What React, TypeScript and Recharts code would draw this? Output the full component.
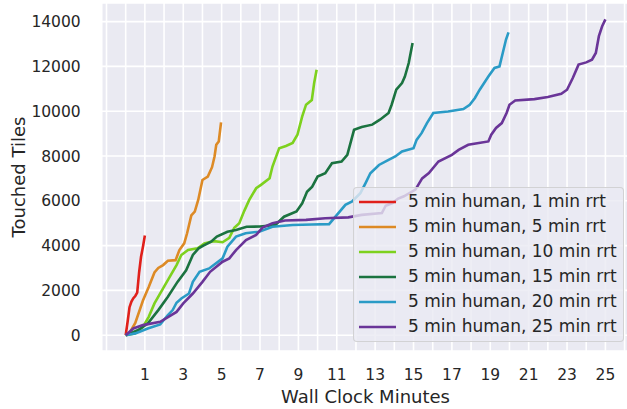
import React from 'react';
import { CartesianGrid, Legend, Line, LineChart, XAxis, YAxis } from 'recharts';

// [minute, touched tiles]
const rrt1 = [
  [0, 0], [0.1, 600], [0.2, 1250], [0.3, 1500], [0.4, 1650], [0.5, 1750], [0.6, 1900],
  [0.7, 2800], [0.8, 3500], [0.9, 3950], [1.0, 4450],
];
const rrt5 = [
  [0, 0], [0.2, 100], [0.5, 550], [0.9, 1550], [1.2, 2150], [1.5, 2800], [1.7, 3000],
  [1.95, 3130], [2.2, 3320], [2.6, 3350], [2.8, 3800], [3.05, 4100], [3.2, 4550],
  [3.42, 5350], [3.6, 5520], [3.78, 6040], [4.0, 6930], [4.28, 7080], [4.5, 7500],
  [4.63, 7980], [4.72, 8500], [4.85, 8650], [4.97, 9500],
];
const rrt10 = [
  [0, 0], [0.5, 80], [0.9, 370], [1.2, 820], [1.5, 1420], [1.95, 2090], [2.4, 2760],
  [2.65, 3130], [2.9, 3580], [3.25, 3800], [3.75, 3880], [4.1, 4100], [4.6, 4200],
  [5.05, 4150], [5.4, 4350], [5.66, 4800], [5.92, 5000], [6.18, 5550], [6.44, 6040],
  [6.8, 6560], [7.05, 6710], [7.5, 7010], [7.65, 7530], [8.0, 8350], [8.35, 8450],
  [8.7, 8580], [8.95, 8950], [9.2, 9770], [9.4, 10290], [9.7, 10500], [9.82, 11250],
  [9.95, 11850],
];
const rrt15 = [
  [0, 0], [0.3, 100], [0.65, 230], [1.15, 520], [1.7, 1120], [2.2, 1715], [2.7, 2380],
  [3.15, 2900], [3.5, 3580], [3.8, 3880], [4.05, 4000], [4.45, 4170], [4.75, 4400],
  [5.3, 4620], [5.75, 4700], [6.3, 4840], [7.0, 4850], [7.8, 4920], [8.25, 5290],
  [8.9, 5520], [9.2, 5890], [9.45, 6400], [9.72, 6630], [10.0, 7080], [10.4, 7230],
  [10.75, 7680], [11.25, 7750], [11.55, 8050], [11.9, 9170], [12.3, 9290], [12.85, 9400],
  [13.25, 9620], [13.7, 9920], [13.86, 10290], [14.1, 10960], [14.4, 11260],
  [14.55, 11550], [14.75, 12150], [14.95, 13050],
];
const rrt20 = [
  [0, 0], [0.5, 80], [1.15, 300], [1.8, 480], [2.2, 900], [2.45, 1120], [2.65, 1450],
  [2.9, 1640], [3.3, 1860], [3.5, 2380], [3.85, 2830], [4.35, 2980], [5.05, 3430],
  [5.3, 3950], [5.75, 4400], [6.25, 4550], [6.95, 4620], [7.65, 4840], [8.7, 4920],
  [9.7, 4940], [10.6, 4960], [10.93, 5290], [11.45, 5820], [11.8, 5970], [12.23, 6340],
  [12.5, 6790], [12.75, 7230], [13.2, 7600], [13.7, 7830], [14.05, 7980], [14.4, 8200],
  [15.0, 8350], [15.16, 8720], [15.42, 9020], [15.7, 9470], [16.03, 9920], [16.8, 9990],
  [17.6, 10100], [17.93, 10290], [18.2, 10590], [18.45, 10960], [18.9, 11550],
  [19.22, 11930], [19.48, 12000], [19.65, 12600], [19.82, 13200], [19.95, 13520],
];
const rrt25 = [
  [0, 0], [0.4, 300], [0.9, 450], [1.8, 600], [2.65, 1040], [3.0, 1420], [3.5, 1860],
  [4.0, 2380], [4.4, 2830], [5.05, 3280], [5.4, 3430], [5.75, 3800], [6.27, 4250],
  [6.8, 4480], [7.13, 4800], [7.65, 5000], [8.3, 5120], [9.4, 5150], [10.4, 5220],
  [11.6, 5260], [12.3, 5370], [13.35, 5450], [13.55, 5780], [13.9, 5900], [14.2, 6100],
  [14.5, 6200], [15.1, 6500], [15.45, 7000], [15.8, 7235], [16.3, 7755], [17.0, 8050],
  [17.35, 8270], [17.85, 8500], [18.4, 8580], [18.9, 8650], [19.05, 8950], [19.3, 9250],
  [19.6, 9470], [19.85, 9920], [20.0, 10290], [20.3, 10480], [21.3, 10540], [22.0, 10630],
  [22.7, 10780], [23.0, 10960], [23.3, 11480], [23.6, 12080], [24.0, 12180], [24.3, 12300],
  [24.5, 12600], [24.66, 13350], [24.83, 13790], [25.0, 14100],
];

const seriesNames = [
  '5 min human, 1 min rrt',
  '5 min human, 5 min rrt',
  '5 min human, 10 min rrt',
  '5 min human, 15 min rrt',
  '5 min human, 20 min rrt',
  '5 min human, 25 min rrt',
];
const seriesColors = ['#E0201B', '#DD8A25', '#7DD11E', '#1B7340', '#2A9BC6', '#6A3598'];
const seriesData = [rrt1, rrt5, rrt10, rrt15, rrt20, rrt25];

const xDomain = [-1.25, 26.25];
const yDomain = [-706, 14831];
const xTicks = Array.from({ length: 28 }, (_, i) => i - 1);
const yTicks = [0, 2000, 4000, 6000, 8000, 10000, 12000, 14000];

const font = 'DejaVu Sans';
const textColor = '#262626';
const plotBg = '#EAEAF2';

// chart box
const W = 640;
const H = 409;
const M = { top: 3, right: 10.6, left: 0, bottom: 0 };
const Y_AXIS_W = 101.7;
const X_AXIS_H = 58;

const YLabel = ({ viewBox }: any) => {
  const cx = viewBox.x + 18;
  const cy = viewBox.y + viewBox.height / 2;
  return (
    <text
      x={cx}
      y={cy}
      transform={`rotate(-90, ${cx}, ${cy})`}
      textAnchor="middle"
      dominantBaseline="central"
      fill={textColor}
      style={{ fontFamily: font, fontSize: 18 }}
    >
      Touched Tiles
    </text>
  );
};

const XLabel = ({ viewBox }: any) => {
  const cx = viewBox.x + viewBox.width / 2;
  const cy = viewBox.y + 45;
  return (
    <text
      x={cx}
      y={cy}
      textAnchor="middle"
      dominantBaseline="central"
      fill={textColor}
      style={{ fontFamily: font, fontSize: 18 }}
    >
      Wall Clock Minutes
    </text>
  );
};

// legend keeps the plotting order (recharts would sort it by name)
const LegendBox = () => (
  <div
    style={{
      boxSizing: 'border-box',
      width: '100%',
      height: '100%',
      background: 'rgba(234,234,242,0.8)',
      border: '1px solid rgba(204,204,204,0.8)',
      borderRadius: 4,
      padding: '1px 0 0 5px',
      fontFamily: font,
      fontSize: 17,
      color: textColor,
    }}
  >
    {seriesNames.map((name, i) => (
      <div key={name} style={{ display: 'flex', alignItems: 'center', height: 25 }}>
        <svg width={37} height={4} style={{ display: 'block' }}>
          <line x1={0} y1={2} x2={37} y2={2} stroke={seriesColors[i]} strokeWidth={2.6} />
        </svg>
        <span style={{ marginLeft: 12, whiteSpace: 'nowrap', lineHeight: '25px' }}>{name}</span>
      </div>
    ))}
  </div>
);

export default function App() {
  return (
    <div style={{ position: 'absolute', left: 0, top: 0, width: 627, height: H, overflow: 'hidden', background: '#fff' }}>
      {/* plot-area background sits under the svg so the white grid stays visible */}
      <div
        style={{
          position: 'absolute',
          left: M.left + Y_AXIS_W,
          top: M.top,
          width: W - M.left - M.right - Y_AXIS_W,
          height: H - M.top - M.bottom - X_AXIS_H,
          background: plotBg,
        }}
      />
      <LineChart width={W} height={H} margin={M}>
        <CartesianGrid stroke="#ffffff" strokeWidth={1.6} fill="none" />
        <XAxis
          type="number"
          dataKey="x"
          domain={xDomain}
          ticks={xTicks}
          interval={0}
          allowDataOverflow
          axisLine={false}
          tickLine={false}
          tickSize={0}
          tickMargin={18}
          height={X_AXIS_H}
          tick={{ fill: textColor, fontFamily: font, fontSize: 15.5 }}
          tickFormatter={(v: number) => (v >= 1 && v % 2 === 1 ? String(v) : '')}
          label={<XLabel />}
        />
        <YAxis
          type="number"
          domain={yDomain}
          ticks={yTicks}
          interval={0}
          allowDataOverflow
          axisLine={false}
          tickLine={false}
          tickSize={0}
          tickMargin={21}
          width={Y_AXIS_W}
          tick={{ fill: textColor, fontFamily: font, fontSize: 15.5 }}
          label={<YLabel />}
        />
        <Legend
          layout="horizontal"
          verticalAlign="middle"
          align="center"
          content={<LegendBox />}
          wrapperStyle={{ position: 'absolute', left: 353, top: 187, width: 271, height: 155, margin: 0 }}
        />
        {seriesData.map((d, i) => (
          <Line
            key={seriesNames[i]}
            name={seriesNames[i]}
            data={d.map(([x, y]) => ({ x, y }))}
            dataKey="y"
            type="linear"
            stroke={seriesColors[i]}
            strokeWidth={2.6}
            dot={false}
            activeDot={false}
            isAnimationActive={false}
          />
        ))}
      </LineChart>
    </div>
  );
}
